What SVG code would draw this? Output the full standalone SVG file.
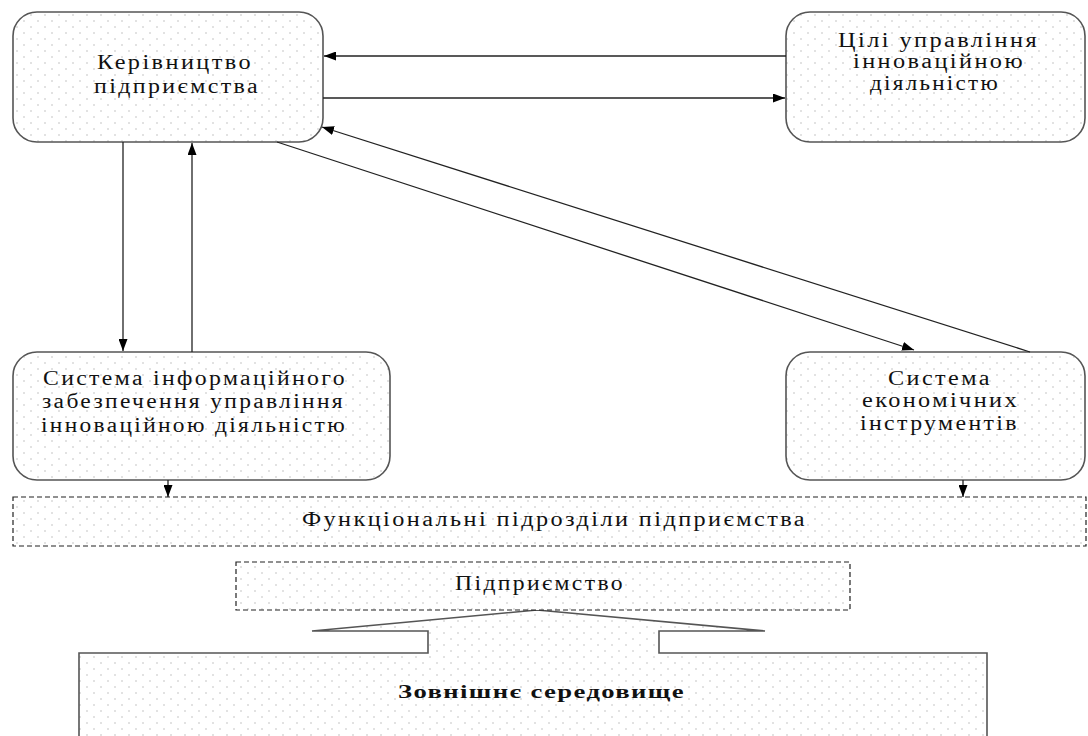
<svg xmlns="http://www.w3.org/2000/svg" width="1088" height="736" viewBox="0 0 1088 736">
<style>
.box{fill:url(#dots);stroke:#555;stroke-width:1.6}
.dash{fill:url(#dots);stroke:#222;stroke-width:1.2;stroke-dasharray:5 3}
.t{font-family:"Liberation Serif","DejaVu Serif",serif;font-size:20px;letter-spacing:2px;fill:#111}
.b{font-family:"Liberation Serif","DejaVu Serif",serif;font-size:19px;font-weight:bold;letter-spacing:1px;fill:#111}
.c{fill:none;stroke:#222;stroke-width:1.3}
</style>
<defs>
<pattern id="dots" width="14" height="12" patternUnits="userSpaceOnUse">
<rect width="14" height="12" fill="#fff"/>
<circle cx="3" cy="3" r="0.8" fill="#bdbdbd"/>
<circle cx="10" cy="9" r="0.8" fill="#bdbdbd"/>
</pattern>
<marker id="ah" markerWidth="12" markerHeight="9" refX="12" refY="4.5" orient="auto" markerUnits="userSpaceOnUse">
<path d="M0,0 L12,4.5 L0,9 Z" fill="#000"/>
</marker>
</defs>
<rect width="1088" height="736" fill="#fff"/>

<g id="env">
<polygon class="box" points="79,740 79,653 428,653 428,631 312,631 537,610 765,631 659,631 659,653 987,653 987,740"/>
<text class="b" x="398" y="698" textLength="287" lengthAdjust="spacingAndGlyphs">Зовнішнє середовище</text>
</g>

<g id="enterprise">
<rect class="dash" x="236" y="562" width="614" height="48"/>
<text class="t" x="455" y="590" textLength="170" lengthAdjust="spacingAndGlyphs">Підприємство</text>
</g>

<g id="func">
<rect class="dash" x="13" y="497" width="1073" height="49"/>
<text class="t" x="302" y="526" textLength="505" lengthAdjust="spacingAndGlyphs">Функціональні підрозділи підприємства</text>
</g>

<g id="mgmt">
<rect class="box" x="13" y="12" width="310" height="130" rx="24"/>
<text class="t" x="97" y="69" textLength="156" lengthAdjust="spacingAndGlyphs">Керівництво</text>
<text class="t" x="94" y="93" textLength="166" lengthAdjust="spacingAndGlyphs">підприємства</text>
</g>

<g id="goals">
<rect class="box" x="786" y="12" width="299" height="130" rx="24"/>
<text class="t" x="838" y="47" textLength="201" lengthAdjust="spacingAndGlyphs">Цілі управління</text>
<text class="t" x="853" y="68" textLength="172" lengthAdjust="spacingAndGlyphs">інноваційною</text>
<text class="t" x="870" y="90" textLength="130" lengthAdjust="spacingAndGlyphs">діяльністю</text>
</g>

<g id="info">
<rect class="box" x="13" y="352" width="377" height="128" rx="24"/>
<text class="t" x="43" y="385" textLength="304" lengthAdjust="spacingAndGlyphs">Система інформаційного</text>
<text class="t" x="42" y="408" textLength="303" lengthAdjust="spacingAndGlyphs">забезпечення управління</text>
<text class="t" x="41" y="432" textLength="306" lengthAdjust="spacingAndGlyphs">інноваційною діяльністю</text>
</g>

<g id="econ">
<rect class="box" x="786" y="352" width="299" height="128" rx="24"/>
<text class="t" x="888" y="385" textLength="104" lengthAdjust="spacingAndGlyphs">Система</text>
<text class="t" x="862" y="407" textLength="157" lengthAdjust="spacingAndGlyphs">економічних</text>
<text class="t" x="860" y="430" textLength="159" lengthAdjust="spacingAndGlyphs">інструментів</text>
</g>

<g id="connectors">
<line class="c" x1="786" y1="56" x2="324" y2="56" marker-end="url(#ah)"/>
<line class="c" x1="323" y1="98" x2="785" y2="98" marker-end="url(#ah)"/>
<line class="c" x1="123" y1="142" x2="123" y2="351" marker-end="url(#ah)"/>
<line class="c" x1="192" y1="352" x2="192" y2="143" marker-end="url(#ah)"/>
<line class="c" x1="277" y1="142" x2="914" y2="350" marker-end="url(#ah)"/>
<line class="c" x1="1030" y1="352" x2="322" y2="127" marker-end="url(#ah)"/>
<line class="c" x1="168" y1="480" x2="168" y2="497" marker-end="url(#ah)"/>
<line class="c" x1="963" y1="480" x2="963" y2="497" marker-end="url(#ah)"/>
</g>
</svg>
